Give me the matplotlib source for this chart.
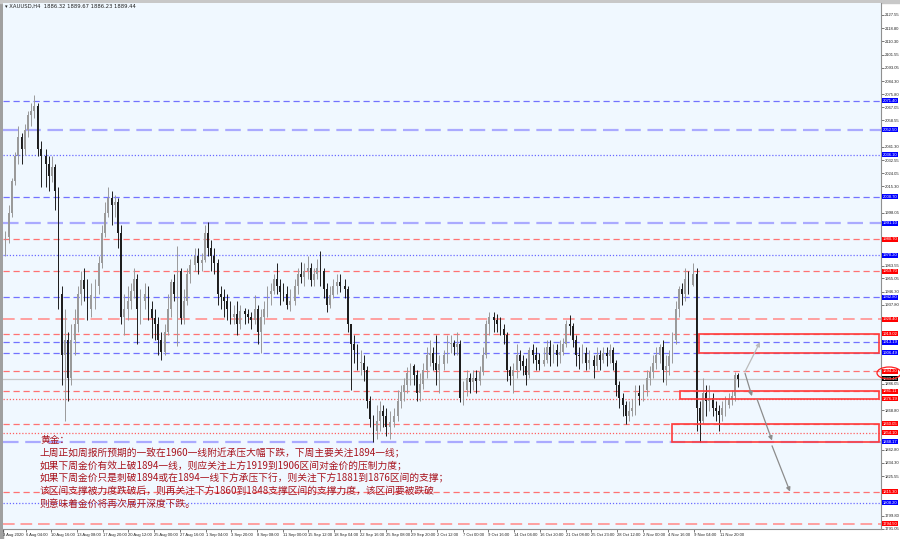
import matplotlib
matplotlib.use('Agg')
import matplotlib.pyplot as plt
import matplotlib.transforms as mtransforms
from matplotlib.patches import Rectangle, Ellipse

plt.rcParams['font.family'] = ['Noto Sans CJK SC', 'DejaVu Sans']

# XAUUSD, read off the H4 chart and grouped as 8-hour candles:
# 15 candles per week (Mon..Fri, 3 a day), weeks starting 3 Aug 2020
first_open = 1980
close = [
    1978, 1972, 1976, 1982, 1998, 2019, 2035, 2048, 2040, 2052, 2062, 2065, 2068, 2040, 2035,
    2030, 2022, 2028, 2012, 1945, 1905, 1915, 1890, 1915, 1925, 1945, 1954, 1948, 1935, 1944,
    1950, 1965, 1985, 1998, 2008, 2003, 2005, 1985, 1930, 1935, 1940, 1947, 1955, 1935, 1940,
    1945, 1935, 1929, 1925, 1915, 1907, 1920, 1935, 1953, 1945, 1960, 1929, 1940, 1958, 1964,
    1970, 1965, 1967, 1985, 1975, 1970, 1965, 1945, 1943, 1940, 1935, 1930, 1932, 1925, 1934,
    1932, 1930, 1928, 1935, 1920, 1930, 1935, 1945, 1947, 1955, 1950, 1946, 1945, 1938, 1940,
    1950, 1958, 1956, 1960, 1962, 1954, 1958, 1962, 1960, 1948, 1938, 1944, 1950, 1953, 1950,
    1948, 1925, 1912, 1908, 1900, 1900, 1895, 1875, 1863, 1855, 1862, 1868, 1865, 1858, 1861,
    1865, 1875, 1881, 1885, 1893, 1898, 1892, 1880, 1886, 1895, 1905, 1906, 1900, 1895, 1899,
    1905, 1912, 1913, 1910, 1912, 1877, 1882, 1890, 1887, 1890, 1888, 1894, 1905, 1925, 1930,
    1928, 1925, 1922, 1918, 1895, 1891, 1895, 1905, 1901, 1898, 1892, 1908, 1905, 1902, 1899,
    1902, 1910, 1905, 1908, 1905, 1907, 1912, 1925, 1924, 1915, 1905, 1904, 1906, 1900, 1902,
    1898, 1905, 1902, 1906, 1904, 1908, 1900, 1885, 1877, 1872, 1865, 1868, 1870, 1880, 1878,
    1882, 1890, 1894, 1900, 1905, 1910, 1895, 1898, 1904, 1915, 1935, 1948, 1945, 1955, 1951,
    1958, 1870, 1862, 1880, 1875, 1877, 1870, 1868, 1866, 1870, 1872, 1876, 1878, 1892, 1889.44,
]
high = [
    1984, 1980, 1980, 1986, 2003, 2021, 2038, 2055, 2050, 2056, 2065, 2070, 2075, 2070, 2045,
    2040, 2035, 2035, 2030, 2015, 1950, 1935, 1920, 1925, 1935, 1950, 1960, 1962, 1955, 1952,
    1955, 1970, 1990, 2005, 2015, 2012, 2010, 2008, 1990, 1945, 1950, 1952, 1962, 1958, 1948,
    1952, 1950, 1940, 1935, 1930, 1920, 1925, 1945, 1955, 1958, 1976, 1962, 1948, 1962, 1968,
    1975, 1975, 1972, 1990, 1992, 1980, 1975, 1968, 1950, 1948, 1945, 1940, 1938, 1940, 1938,
    1936, 1935, 1933, 1944, 1938, 1935, 1940, 1950, 1952, 1958, 1965, 1955, 1952, 1950, 1948,
    1955, 1962, 1966, 1965, 1970, 1965, 1962, 1968, 1973, 1962, 1952, 1950, 1955, 1958, 1958,
    1955, 1950, 1925, 1918, 1912, 1908, 1905, 1898, 1878, 1866, 1872, 1875, 1872, 1870, 1868,
    1870, 1882, 1885, 1890, 1897, 1900, 1899, 1895, 1893, 1900, 1910, 1915, 1910, 1918, 1905,
    1908, 1918, 1918, 1915, 1920, 1915, 1888, 1895, 1893, 1895, 1895, 1898, 1910, 1928, 1933,
    1933, 1932, 1930, 1925, 1920, 1898, 1900, 1912, 1908, 1905, 1903, 1910, 1912, 1910, 1906,
    1910, 1915, 1915, 1912, 1912, 1915, 1916, 1928, 1931, 1926, 1918, 1910, 1912, 1910, 1908,
    1905, 1910, 1908, 1910, 1910, 1912, 1910, 1902, 1888, 1880, 1875, 1875, 1876, 1885, 1885,
    1886, 1895, 1898, 1905, 1910, 1912, 1915, 1905, 1908, 1920, 1940, 1950, 1952, 1962, 1960,
    1965, 1962, 1875, 1890, 1885, 1885, 1880, 1875, 1872, 1875, 1878, 1880, 1882, 1894, 1893,
]
low = [
    1966, 1965, 1968, 1970, 1978, 1995, 2016, 2030, 2030, 2036, 2048, 2055, 2060, 2035, 2015,
    2015, 2012, 2018, 2000, 1935, 1885, 1862, 1875, 1885, 1905, 1920, 1938, 1940, 1928, 1930,
    1935, 1945, 1962, 1982, 1995, 1990, 1995, 1975, 1925, 1918, 1928, 1935, 1942, 1912, 1925,
    1935, 1928, 1916, 1915, 1905, 1902, 1905, 1918, 1930, 1940, 1911, 1925, 1925, 1938, 1952,
    1960, 1958, 1960, 1966, 1970, 1960, 1958, 1938, 1935, 1930, 1928, 1925, 1925, 1918, 1922,
    1925, 1926, 1922, 1925, 1912, 1906, 1925, 1930, 1938, 1945, 1945, 1938, 1940, 1935, 1934,
    1938, 1945, 1952, 1950, 1955, 1950, 1950, 1955, 1950, 1942, 1933, 1936, 1942, 1945, 1946,
    1942, 1920, 1882, 1900, 1895, 1892, 1888, 1870, 1858, 1848, 1850, 1855, 1858, 1852, 1850,
    1858, 1862, 1870, 1875, 1880, 1885, 1885, 1875, 1875, 1883, 1890, 1898, 1895, 1885, 1880,
    1895, 1900, 1906, 1905, 1905, 1874, 1872, 1878, 1880, 1882, 1880, 1885, 1892, 1903, 1918,
    1920, 1920, 1918, 1912, 1888, 1885, 1880, 1890, 1895, 1892, 1885, 1890, 1900, 1895, 1895,
    1898, 1900, 1898, 1900, 1898, 1900, 1905, 1910, 1918, 1910, 1898, 1896, 1900, 1895, 1896,
    1890, 1895, 1895, 1900, 1898, 1900, 1895, 1878, 1870, 1865, 1860, 1862, 1865, 1866, 1872,
    1875, 1878, 1885, 1890, 1896, 1900, 1887, 1885, 1892, 1900, 1912, 1930, 1938, 1940, 1945,
    1950, 1855, 1848, 1860, 1865, 1868, 1865, 1862, 1855, 1862, 1865, 1870, 1872, 1875, 1884,
]

# horizontal levels drawn on the chart
levels = [2071.40, 2052.50, 2036.10, 2008.70, 1991.10, 1980.70, 1970.20, 1959.70, 1942.80,
          1928.40, 1919.02, 1913.19, 1906.49, 1894.20, 1881.11, 1876.19, 1860.05, 1854.10,
          1848.17, 1815.30, 1808.20, 1794.50]
level_kind = ['b', 'lb', 'bd', 'b', 'lb', 'r', 'bd', 'r', 'b',
              'lr', 'r', 'b', 'b', 'r', 'r', 'rd', 'r', 'rd',
              'lb', 'r', 'bd', 'lr']
last_price = 1889.44

# zones (price top, price bottom)
zones = [(1919.02, 1906.49), (1881.11, 1876.19), (1860.05, 1848.17)]

yticks = [2127.55, 2118.80, 2110.30, 2101.55, 2093.05, 2084.30, 2075.80, 2067.05, 2058.55,
          2049.80, 2041.30, 2032.55, 2024.05, 2015.30, 2006.80, 1998.05, 1989.55, 1980.80,
          1972.30, 1963.55, 1955.05, 1946.30, 1937.80, 1929.05, 1920.55, 1911.80, 1903.30,
          1894.55, 1886.05, 1877.30, 1868.80, 1860.05, 1851.55, 1842.80, 1834.30, 1825.55,
          1817.05, 1808.30, 1799.80, 1791.05]

date_labels = ['3 Aug 2020', '6 Aug 04:00', '10 Aug 16:00', '13 Aug 08:00', '17 Aug 20:00',
               '20 Aug 12:00', '25 Aug 00:00', '27 Aug 16:00', '1 Sep 04:00', '3 Sep 20:00',
               '8 Sep 08:00', '11 Sep 00:00', '15 Sep 12:00', '18 Sep 04:00', '22 Sep 16:00',
               '25 Sep 08:00', '29 Sep 20:00', '2 Oct 12:00', '7 Oct 00:00', '9 Oct 16:00',
               '14 Oct 04:00', '16 Oct 20:00', '21 Oct 08:00', '25 Oct 23:00', '28 Oct 12:00',
               '2 Nov 00:00', '4 Nov 16:00', '9 Nov 04:00', '11 Nov 20:00']

note = ['黄金：',
        '上周正如周报所预期的一致在1960一线附近承压大幅下跌，下周主要关注1894一线；',
        '如果下周金价有效上破1894一线，则应关注上方1919到1906区间对金价的压制力度；',
        '如果下周金价只是刺破1894或在1894一线下方承压下行，则关注下方1881到1876区间的支撑；',
        '该区间支撑被力度跌破后，则再关注下方1860到1848支撑区间的支撑力度，该区间要被跌破',
        '则意味着金价将再次展开深度下跌。']

# projected path arrows: (bar, price) -> (bar, price)
arrows = [((466.7, 1894.0), (476.0, 1913.4)),
          ((466.7, 1893.0), (471.0, 1878.0)),
          ((474.2, 1876.0), (483.5, 1849.0)),
          ((483.5, 1845.5), (494.7, 1815.5))]

# ---------------------------------------------------------------
W, H = 900, 539
small = dict(family='Liberation Sans', fontsize=3.0)
fig = plt.figure(figsize=(9, 5.39), dpi=100, facecolor='white')
ax = fig.add_axes([3 / W, 10 / H, 878 / W, 526 / H])
ax.set_facecolor('#F0F8FF')
ax.set_xlim(4.98, 551.3)
ax.set_ylim(1791.9, 2135.4)

# frame around window
fig.add_artist(Rectangle((0, 0), 3 / W, 1, transform=fig.transFigure, color='#A0A0A0', zorder=0))
fig.add_artist(Rectangle((0, 1 - 3 / H), 1, 3 / H, transform=fig.transFigure, color='#C8C8C8', zorder=0))

styles = {
    'b': dict(color='#7272FF', dashes=(5, 3), lw=0.9, box='#0000FF'),
    'lb': dict(color='#AAAAFF', dashes=(7, 3), lw=1.6, box='#0000FF'),
    'bd': dict(color='#6A6AFF', dashes=(1, 1.5), lw=0.9, box='#0000FF'),
    'r': dict(color='#FF7272', dashes=(5, 3), lw=0.9, box='#FF0000'),
    'lr': dict(color='#FFA0A0', dashes=(6, 3), lw=1.4, box='#FF0000'),
    'rd': dict(color='#FF6060', dashes=(1, 1.5), lw=0.9, box='#FF0000'),
}
ax.axhline(last_price, color='#C8C8C8', lw=0.9, zorder=1)
for p, k in zip(levels, level_kind):
    s = styles[k]
    ax.axhline(p, color=s['color'], lw=s['lw'], dashes=s['dashes'], zorder=1)

# candles
opens = [first_open] + close[:-1]
xs = []
for i in range(len(close)):
    week, slot = divmod(i, 15)
    xs.append(31 * week + 2 * slot + 0.5)
up_col, dn_col = '#9A9A9A', '#1E1E1E'
cols = [up_col if c >= o else dn_col for o, c in zip(opens, close)]
ax.vlines(xs, low, high, colors=cols, lw=0.7, zorder=3)
ax.bar(xs, [max(abs(c - o), 0.4) for o, c in zip(opens, close)],
       bottom=[min(o, c) for o, c in zip(opens, close)], width=1.1,
       color=cols, lw=0, zorder=4)

# zones
zone_start = [438.0, 426.3, 421.3]
for (top, bot), x0 in zip(zones, zone_start):
    ax.add_patch(Rectangle((x0, bot), 550.2 - x0, top - bot, fill=False,
                           ec='#FF3B3B', lw=1.2, zorder=5))

# arrows
for n, (a, b) in enumerate(arrows):
    c = '#BBBBBB' if n == 0 else '#8C8C8C'
    ax.annotate('', xy=b, xytext=a,
                arrowprops=dict(arrowstyle='-|>', color=c, lw=0.9, mutation_scale=6,
                                shrinkA=0, shrinkB=0), zorder=6)

# axes styling
for sp in ['top', 'left']:
    ax.spines[sp].set_visible(False)
ax.spines['right'].set_color('#909090')
ax.spines['bottom'].set_color('#909090')
ax.yaxis.tick_right()
shown = [v for v in yticks if min(abs(v - p) for p in levels + [last_price]) > 3.2]
ax.set_yticks(shown)
ax.set_yticklabels([f'{v:.2f}' for v in shown], color='#202020', **small)
ax.tick_params(axis='y', length=2, pad=1, width=0.5, color='#404040')

date_bars = [5] + [19 + 16 * k for k in range(len(date_labels) - 1)]
ax.set_xticks(date_bars)
ax.set_xticklabels(date_labels, color='#202020', ha='left', **small)
ax.tick_params(axis='x', length=2, pad=1, width=0.5, color='#404040')

# price boxes on right axis
trans = mtransforms.blended_transform_factory(ax.transAxes, ax.transData)
for p, k in zip(levels, level_kind):
    ax.text(1.002, p, f'{p:.2f}', transform=trans, color='white',
            va='center', ha='left', clip_on=False, zorder=8,
            bbox=dict(boxstyle='square,pad=0.12', fc=styles[k]['box'], ec='none'), **small)
ax.text(1.002, last_price, f'{last_price:.2f}', transform=trans, color='white',
        va='center', ha='left', clip_on=False, zorder=8,
        bbox=dict(boxstyle='square,pad=0.12', fc='black', ec='none'), **small)

fig.add_artist(Ellipse((889 / W, 1 - 373 / H), 24 / W, 12 / H, transform=fig.transFigure,
                       fill=False, ec='#FF2020', lw=0.9))

# header
fig.text(5 / W, 1 - 6 / H, '▾ XAUUSD,H4  1886.32 1889.67 1886.23 1889.44', fontsize=3.8,
         color='#202020', va='center', ha='left', family='DejaVu Sans')

# commentary
ys = [440, 453, 466, 478, 491, 504]
for line, y in zip(note, ys):
    fig.text(40 / W, 1 - y / H, line, fontsize=7.0, color='#A8141E', va='center', ha='left')

fig.savefig('out.png', dpi=100, facecolor=fig.get_facecolor())
